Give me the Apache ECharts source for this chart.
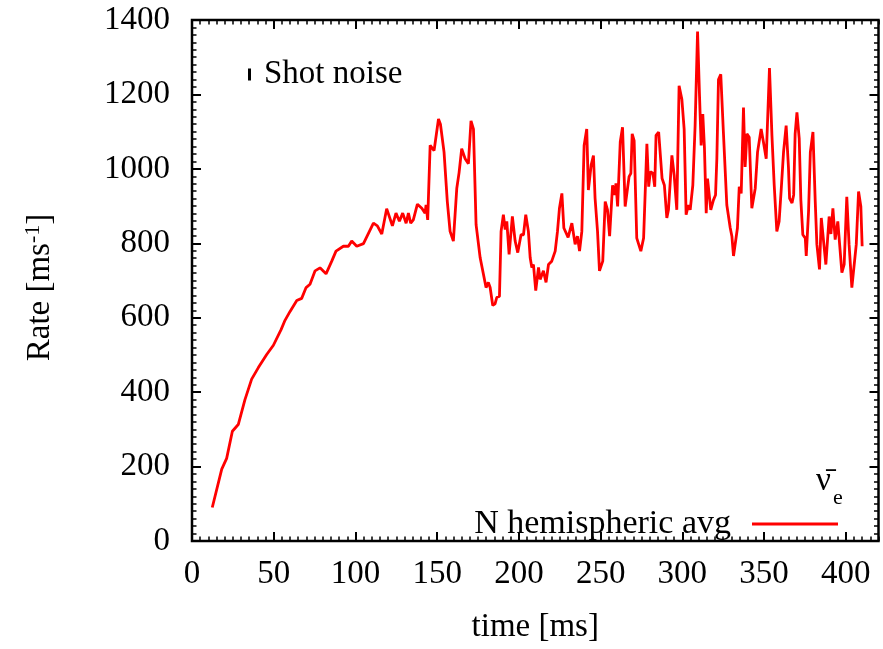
<!DOCTYPE html>
<html>
<head>
<meta charset="utf-8">
<script src="https://cdn.jsdelivr.net/npm/echarts@6/dist/echarts.min.js"></script>
<style>html,body{margin:0;padding:0;background:#fff}#c{width:883px;height:649px}</style>
</head>
<body>
<div id="c"></div>
<script>
const xTicks = [0, 50, 100, 150, 200, 250, 300, 350, 400];
const yTicks = [0, 200, 400, 600, 800, 1000, 1200, 1400];
const times = [12.4,18.2,21.2,24.7,28.3,32.4,36.5,40.6,45.7,49.8,54.5,56.9,60.0,64.1,67.1,69.8,72.2,75.3,78.3,82.0,85.5,88.1,92.6,95.7,97.7,100.8,104.9,111.0,113.4,116.1,119.1,122.6,124.8,126.9,128.9,131.0,132.4,133.8,135.4,137.9,140.6,142.6,143.2,144.2,145.7,148.1,150.8,152.0,154.2,156.2,157.9,159.9,162.0,163.4,165.0,167.1,168.1,169.1,170.7,172.2,173.8,176.3,178.3,179.9,181.3,182.4,184.0,185.4,186.5,188.1,189.1,190.5,191.6,192.6,194.0,196.0,197.7,199.3,200.3,201.3,202.8,204.2,205.8,206.9,207.9,208.9,210.3,212.0,213.0,215.0,216.6,218.1,220.1,222.2,223.6,224.8,226.3,227.5,230.1,232.4,234.4,235.8,237.1,238.5,239.9,241.5,242.5,243.6,244.2,245.6,246.6,248.1,249.3,251.3,252.8,254.2,255.5,257.3,258.4,259.4,260.4,262.0,263.4,265.0,266.0,267.4,268.5,269.3,270.5,272.1,273.2,274.6,276.3,278.3,279.4,280.4,282.0,283.1,283.9,285.5,287.6,289.0,290.5,291.5,293.6,295.0,296.6,298.0,299.7,301.1,302.3,303.7,304.8,306.4,307.8,309.3,310.5,311.5,312.5,313.5,314.6,315.4,316.6,317.4,319.0,320.3,321.1,322.1,323.5,325.1,327.2,329.3,330.3,331.3,332.3,333.7,334.8,336.0,337.4,338.4,339.5,340.9,342.5,344.6,346.0,347.2,348.2,349.6,351.3,353.3,354.8,356.2,357.8,359.2,360.4,361.9,363.5,364.9,365.6,367.1,368.1,369.0,370.1,371.5,372.5,373.7,375.2,375.8,377.2,378.3,379.9,381.3,382.3,383.3,383.9,385.0,386.0,387.8,389.8,390.9,392.1,393.5,395.1,397.6,399.0,400.6,402.0,403.7,406.4,407.8,409.2,410.0];
const rates = [90,193,222,295,313,380,435,466,501,526,568,593,617,646,652,681,690,726,734,718,752,779,792,792,806,792,799,854,847,825,893,847,881,859,881,854,881,854,863,905,894,881,903,863,1063,1049,1134,1120,1045,912,832,806,948,990,1054,1027,1032,1014,1129,1107,850,761,717,681,695,681,633,637,655,657,832,877,837,859,770,872,806,775,775,823,823,877,832,761,735,743,673,735,703,726,695,743,752,779,832,894,934,841,816,854,797,819,779,832,1063,1107,943,939,1010,1036,921,832,726,752,912,890,819,956,930,961,899,1072,1112,899,899,979,988,1094,1076,814,810,779,814,1067,952,992,988,952,1090,1099,974,956,868,890,1036,983,890,1223,1187,1107,877,903,890,956,1116,1369,1196,1063,1147,1058,881,974,974,890,916,930,1027,1240,1254,1099,903,841,819,766,761,841,952,934,1165,1005,1094,1085,894,948,1045,1049,1107,1072,1027,1271,1090,956,832,859,939,1045,1116,1005,921,908,930,1094,1152,1081,916,823,814,766,885,1045,1099,912,797,797,730,868,863,743,872,825,894,810,859,721,743,925,797,681,797,939,899,792];
const seriesName = 'N hemispheric avg';
const noiseName = 'Shot noise';
const xTitle = 'time [ms]';

const FONT = 'Liberation Serif';
const FS = 33;
const lineData = times.map((t, i) => [t, rates[i]]);
const noLine = {show: false, onZero: false};
const noSplit = {show: false};

function tickX(pos, interval, len, w, custom) {
  const tick = {show: true, inside: true, length: len, lineStyle: {color: '#000', width: w}};
  if (custom) tick.customValues = custom;
  return {type: 'value', position: pos, min: 0, max: 420, interval: interval,
    axisLine: noLine, splitLine: noSplit, axisLabel: {show: false}, axisTick: tick};
}
function tickY(pos) {
  return {type: 'value', position: pos, min: 0, max: 1400, interval: 200,
    axisLine: noLine, splitLine: noSplit, axisLabel: {show: false},
    axisTick: {show: true, inside: true, length: 9, lineStyle: {color: '#000', width: 2}},
    minorTick: {show: true, splitNumber: 10, length: 4.5, lineStyle: {color: '#000', width: 1.5}}};
}

const chart = echarts.init(document.getElementById('c'), null, {renderer: 'canvas'});
chart.setOption({
  animation: false,
  backgroundColor: '#fff',
  grid: {left: 192, right: 4.5, top: 20, bottom: 103, show: true, borderColor: '#000', borderWidth: 2.5, backgroundColor: 'transparent'},
  xAxis: [
    {type: 'value', position: 'bottom', min: 0, max: 420, interval: 50,
     axisLine: noLine, splitLine: noSplit, axisTick: {show: false},
     axisLabel: {customValues: xTicks, margin: 17, color: '#000', fontFamily: FONT, fontSize: FS},
     name: xTitle, nameLocation: 'middle', nameGap: 70,
     nameTextStyle: {color: '#000', fontFamily: FONT, fontSize: FS}},
    tickX('bottom', 50, 9, 2, xTicks),
    tickX('bottom', 5, 4.5, 1.5, null),
    tickX('top', 50, 9, 2, xTicks),
    tickX('top', 5, 4.5, 1.5, null)
  ],
  yAxis: [
    {type: 'value', position: 'left', min: 0, max: 1400, interval: 200,
     axisLine: noLine, splitLine: noSplit, axisTick: {show: false},
     axisLabel: {customValues: yTicks, margin: 22, color: '#000', fontFamily: FONT, fontSize: FS, formatter: v => String(v)},
     name: '{a|Rate [ms}{s|-1}{a|]}', nameLocation: 'middle', nameGap: 134, nameRotate: 90,
     nameTextStyle: {color: '#000', fontFamily: FONT, fontSize: FS, padding: [0, 14, 0, 0],
       rich: {a: {fontFamily: FONT, fontSize: FS, color: '#000'},
              s: {fontFamily: FONT, fontSize: 22, color: '#000', verticalAlign: 'top', padding: [0, 0, 14, 0]}}}},
    tickY('left'),
    tickY('right')
  ],
  legend: [
    {data: [noiseName], left: 243, top: 53, icon: 'rect', itemWidth: 3, itemHeight: 12,
     textStyle: {color: '#000', fontFamily: FONT, fontSize: FS, padding: [0, 0, 0, 8]}},
    {data: [seriesName], right: 40, top: 502, align: 'right', icon: 'rect', itemWidth: 86, itemHeight: 3,
     textStyle: {color: '#000', fontFamily: FONT, fontSize: 34, padding: [4, 16, 0, 0]}}
  ],
  graphic: [
    {type: 'text', left: 816, top: 465, style: {text: 'ν̄', font: FS + 'px "' + FONT + '"', fill: '#000'}},
    {type: 'text', left: 833, top: 487, style: {text: 'e', font: '22px "' + FONT + '"', fill: '#000'}}
  ],
  series: [
    {name: noiseName, type: 'line', data: [], itemStyle: {color: '#000'}, lineStyle: {color: '#000'}},
    {name: seriesName, type: 'line', data: lineData, xAxisIndex: 0, yAxisIndex: 0, showSymbol: false,
     itemStyle: {color: '#ff0000'}, lineStyle: {color: '#ff0000', width: 2.8}}
  ]
});
</script>
</body>
</html>
